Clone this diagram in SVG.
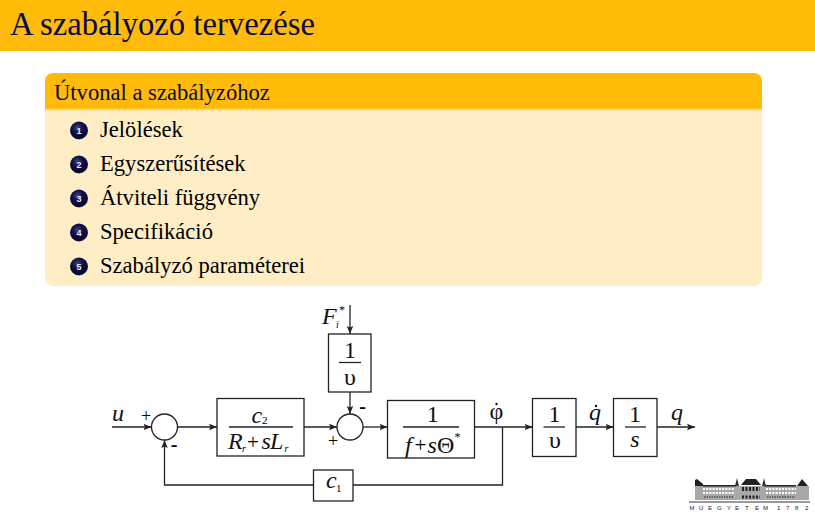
<svg xmlns="http://www.w3.org/2000/svg" width="815" height="519" viewBox="0 0 815 519">
<style>
.s{font-family:"Liberation Serif","Times New Roman",serif}
.item{font-size:22.6px;fill:#000}
.n{font-family:"Liberation Sans",Arial,sans-serif;font-size:9px;font-weight:bold;fill:#e8e8f4;text-anchor:middle}
.m{font-size:24px;fill:#111;text-anchor:middle}
.t{font-size:24px;fill:#111}
.i{font-style:italic}
.b{fill:#fff;stroke:#222;stroke-width:1.3}
.l{fill:none;stroke:#222;stroke-width:1.3}
.fr{stroke:#222;stroke-width:1.3}
</style>
<defs>
<radialGradient id="ball" cx="0.42" cy="0.35" r="0.7"><stop offset="0" stop-color="#45457c"/><stop offset="0.4" stop-color="#10104a"/><stop offset="0.85" stop-color="#05052e"/><stop offset="1" stop-color="#4a4a70"/></radialGradient>
<linearGradient id="sh" x1="0" y1="0" x2="0" y2="1"><stop offset="0" stop-color="#ffbb08"/><stop offset="1" stop-color="#ffeec5"/></linearGradient>
<marker id="a" markerUnits="userSpaceOnUse" markerWidth="9" markerHeight="8" refX="8" refY="4" orient="auto"><path d="M0 0.8L8 4L0 7.2L1.5 4Z" fill="#222"/></marker>
</defs>
<rect width="815" height="51" fill="#ffbb08"/>
<text class="s" x="10" y="35" font-size="32.700" fill="#0a0a4e">A szabályozó tervezése</text>

<g id="block">
<path d="M45 109V81a8 8 0 0 1 8-8H754a8 8 0 0 1 8 8V109Z" fill="#ffbb08"/>
<path d="M45 109H762V278a8 8 0 0 1-8 8H53a8 8 0 0 1-8-8Z" fill="#ffeec5"/>
<rect x="45" y="108" width="717" height="3" fill="url(#sh)"/>
<text class="s" x="54" y="100" font-size="22.600" fill="#0a0a4e">Útvonal a szabályzóhoz</text>
</g>
<g id="item1"><circle cx="79" cy="130.500" r="9" fill="url(#ball)"/><text class="n" x="79" y="134">1</text><text class="s item" x="100" y="137">Jelölések</text></g>
<g id="item2"><circle cx="79" cy="164.500" r="9" fill="url(#ball)"/><text class="n" x="79" y="168">2</text><text class="s item" x="100" y="171">Egyszerűsítések</text></g>
<g id="item3"><circle cx="79" cy="198.500" r="9" fill="url(#ball)"/><text class="n" x="79" y="202">3</text><text class="s item" x="100" y="205">Átviteli függvény</text></g>
<g id="item4"><circle cx="79" cy="232.500" r="9" fill="url(#ball)"/><text class="n" x="79" y="236">4</text><text class="s item" x="100" y="239">Specifikáció</text></g>
<g id="item5"><circle cx="79" cy="266.500" r="9" fill="url(#ball)"/><text class="n" x="79" y="270">5</text><text class="s item" x="100" y="273">Szabályzó paraméterei</text></g>

<g id="connectors">
<path class="l" d="M112 427H151.500" marker-end="url(#a)"/>
<path class="l" d="M177.500 427H217" marker-end="url(#a)"/>
<path class="l" d="M304 427H337" marker-end="url(#a)"/>
<path class="l" d="M363 427H387.500" marker-end="url(#a)"/>
<path class="l" d="M474.500 427H532.500" marker-end="url(#a)"/>
<path class="l" d="M576 427H613.500" marker-end="url(#a)"/>
<path class="l" d="M657 427H695" marker-end="url(#a)"/>
<path class="l" d="M350 305V334" marker-end="url(#a)"/>
<path class="l" d="M350 392V414" marker-end="url(#a)"/>
<path class="l" d="M502.500 427V485H353"/>
<path class="l" d="M313.500 485H164.500V440" marker-end="url(#a)"/>
</g>

<g id="sum1"><circle class="b" cx="164.500" cy="427" r="13"/><text class="s" x="146" y="421.500" font-size="18" text-anchor="middle">+</text><text class="s" x="174" y="451" font-size="20" font-weight="bold" text-anchor="middle">-</text></g>
<g id="sum2"><circle class="b" cx="350" cy="427" r="13"/><text class="s" x="333" y="446.500" font-size="18" text-anchor="middle">+</text><text class="s" x="362.700" y="412.500" font-size="20" font-weight="bold" text-anchor="middle">-</text></g>

<g id="label-u"><text class="s m i" x="118" y="421" font-size="24">u</text></g>
<g id="label-F"><text class="s t i" x="322" y="324" font-size="24">F</text><text class="s i" x="336" y="328" font-size="10">i</text><text class="s" x="339" y="313.500" font-size="12">*</text></g>

<g id="box-c2"><rect class="b" x="217" y="398.500" width="87" height="57.500"/><line class="fr" x1="229" x2="293" y1="427" y2="427"/><text class="s t i" x="251.500" y="422.500">c</text><text class="s" x="262" y="424" font-size="11">2</text><text class="s t i" x="228" y="449">R</text><text class="s i" x="242" y="452" font-size="10">r</text><text class="s" x="247" y="449" font-size="21">+</text><text class="s t i" x="261.500" y="449">s</text><text class="s t i" x="270" y="449">L</text><text class="s i" x="284.500" y="452" font-size="10">r</text></g>

<g id="box-v1"><rect class="b" x="328.500" y="334" width="42.500" height="58"/><line class="fr" x1="339" x2="361" y1="362.500" y2="362.500"/><text class="s m" x="350" y="357.500" font-size="23">1</text><text class="s m" x="350" y="385">υ</text></g>

<g id="box-f"><rect class="b" x="387.500" y="400.500" width="87" height="57.500"/><line class="fr" x1="403" x2="459" y1="427" y2="427"/><text class="s m" x="432.700" y="422" font-size="23">1</text><text class="s t i" x="405" y="452.500">f</text><text class="s" x="414.500" y="452" font-size="21">+</text><text class="s t i" x="427.500" y="452.500">s</text><text class="s t" x="437" y="452.500" font-size="23">Θ</text><text class="s" x="454.500" y="441" font-size="12">*</text></g>

<g id="label-phi"><text class="s m" x="496.500" y="418.500" font-size="25">φ</text><circle cx="496.500" cy="404" r="1.200" fill="#111"/></g>

<g id="box-v2"><rect class="b" x="532.500" y="398.500" width="43.500" height="58"/><line class="fr" x1="543.500" x2="565" y1="427" y2="427"/><text class="s m" x="554.500" y="421.700" font-size="23">1</text><text class="s m" x="555" y="448">υ</text></g>

<g id="label-qdot"><text class="s m i" x="595" y="420">q</text><circle cx="596" cy="406" r="1.200" fill="#111"/></g>

<g id="box-s"><rect class="b" x="613.500" y="398.500" width="43.500" height="58"/><line class="fr" x1="625" x2="646" y1="427" y2="427"/><text class="s m" x="635" y="421.700" font-size="23">1</text><text class="s m i" x="635" y="446.500" font-size="23">s</text></g>

<g id="label-q"><text class="s m i" x="677" y="420">q</text></g>

<g id="box-c1"><rect class="b" x="313.500" y="470" width="39.500" height="31"/><text class="s t i" x="326" y="488">c</text><text class="s" x="336" y="492" font-size="11">1</text></g>

<g id="logo">
<rect x="695" y="486" width="114" height="14" fill="#a8a8a8"/>
<rect x="703" y="485" width="33" height="1.500" fill="#222"/>
<rect x="764" y="485" width="32" height="1.500" fill="#222"/>
<path d="M695 486V480L697 479L703 484V486Z" fill="#222"/>
<path d="M797 486L802 479L808 486Z" fill="#222"/>
<path d="M741 485L746 479H756L761 485Z" fill="#222"/>
<path d="M735 486L737 478L739 486ZM762 486L764 478L766 486Z" fill="#333"/>
<path d="M703 489H735M703 493H735M766 489H796M766 493H796" stroke="#fff" stroke-width="2" stroke-dasharray="2 1.200"/>
<path d="M704 497H734M767 497H795" stroke="#666" stroke-width="2" stroke-dasharray="1.500 1"/>
<path d="M742 489H760" stroke="#222" stroke-width="4" stroke-dasharray="2 1.500"/>
<path d="M742 497H760" stroke="#222" stroke-width="3" stroke-dasharray="2 1.500"/>
<line x1="689" y1="502" x2="810" y2="502" stroke="#333" stroke-width="1"/>
<text x="689.500 699 708 717 727 735 745 755 763 770 777 786 795 805" y="510" font-family="Liberation Sans,Arial,sans-serif" font-size="6" fill="#222">MŰEGYETEM 1782</text>
</g>
</svg>
